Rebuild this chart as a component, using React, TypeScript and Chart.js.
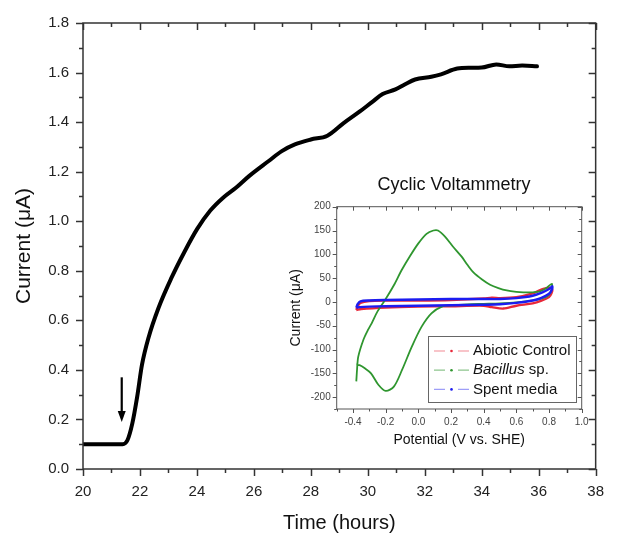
import React, { useEffect, useRef } from "react";
import { Chart, registerables } from "chart.js";

Chart.register(...registerables);

// ---------- Main chart data ----------
const timeHours = [20, 21, 21.2, 21.39, 21.56, 21.73, 21.9, 22.07, 22.3, 22.65, 23.1, 23.56, 24.01, 24.47, 24.93, 25.38, 25.84, 26.52, 26.98, 27.44, 28.0, 28.58, 29.15, 29.72, 30.17, 30.52, 30.97, 31.31, 31.66, 32.23, 32.57, 33.14, 33.6, 34.0, 34.51, 34.97, 35.42, 35.94];
const currentMicroA = [0.1, 0.1, 0.1, 0.1, 0.116, 0.183, 0.29, 0.42, 0.53, 0.65, 0.77, 0.876, 0.969, 1.043, 1.096, 1.136, 1.183, 1.243, 1.283, 1.31, 1.33, 1.345, 1.396, 1.443, 1.483, 1.513, 1.532, 1.553, 1.572, 1.583, 1.593, 1.616, 1.619, 1.62, 1.633, 1.625, 1.628, 1.625];
const mainXTicks = [20, 22, 24, 26, 28, 30, 32, 34, 36, 38];
const mainYTicks = [0, 0.2, 0.4, 0.6, 0.8, 1.0, 1.2, 1.4, 1.6, 1.8];
const arrowTime = 21.36;
const arrowTop = 0.37;
const arrowTip = 0.19;

// ---------- Inset (cyclic voltammetry) data ----------
const insetTitle = "Cyclic Voltammetry";
const abioticPotential = [-0.38, -0.372, -0.355, -0.3, -0.2, 0.0, 0.2, 0.4, 0.45, 0.5, 0.6, 0.7, 0.76, 0.8, 0.82, 0.815, 0.8, 0.75, 0.7, 0.6, 0.52, 0.45, 0.4, 0.2, 0.0, -0.2, -0.35, -0.38];
const abioticCurrent = [-17, -9, -2, 2, 3, 3, 4, 7, 9, 8, 10, 18, 27, 30, 26, 18, 10, 2, -3, -8, -14, -11, -8, -9, -10, -12, -15, -17];
const bacillusPotential = [-0.38, -0.375, -0.368, -0.337, -0.31, -0.286, -0.25, -0.204, -0.15, -0.102, -0.05, 0.0, 0.05, 0.092, 0.12, 0.163, 0.21, 0.265, 0.3, 0.337, 0.39, 0.439, 0.49, 0.541, 0.6, 0.643, 0.7, 0.745, 0.78, 0.817, 0.81, 0.78, 0.7, 0.6, 0.5, 0.4, 0.3, 0.2, 0.15, 0.08, 0.02, -0.04, -0.1, -0.15, -0.2, -0.245, -0.29, -0.33, -0.36, -0.38];
const bacillusCurrent = [-167, -140, -115, -80, -60, -45, -20, 4, 35, 67, 97, 123, 143, 150, 150, 137, 117, 95, 78, 62, 47, 36, 29, 24, 21, 20, 20, 22, 28, 38, 20, 10, 3, -1, -3, -4, -5, -7, -9, -24, -52, -94, -143, -178, -187, -174, -150, -139, -133, -132];
const spentPotential = [-0.38, -0.372, -0.355, -0.3, -0.2, 0.0, 0.2, 0.4, 0.5, 0.6, 0.7, 0.76, 0.8, 0.82, 0.818, 0.8, 0.75, 0.7, 0.6, 0.5, 0.4, 0.2, 0.0, -0.2, -0.3, -0.36, -0.38];
const spentCurrent = [-12, -5, 1, 3, 4, 5, 6, 6, 6, 8, 13, 20, 27, 33, 26, 17, 8, 3, -2, -5, -6, -7, -8, -9, -10, -11, -12];
const cvXTicks = [-0.4, -0.2, 0.0, 0.2, 0.4, 0.6, 0.8, 1.0];
const cvYTicks = [-200, -150, -100, -50, 0, 50, 100, 150, 200];
const legendLabels = ["Abiotic Control", "Bacillus", "Spent media"];
const legendSuffix = ["", " sp.", ""];
const legendItalic = [false, true, false];

const FONT = "'Liberation Sans', Arial, Helvetica, sans-serif";

const toPoints = (xs: number[], ys: number[]) => xs.map((x, i) => ({ x, y: ys[i] }));

// Frame + major/minor ticks on all four sides
const framePlugin = {
  id: "frameTicks",
  afterDatasetsDraw(chart: any, _args: any, opts: any) {
    const { ctx, chartArea: a, scales } = chart;
    const xs = scales.x;
    const ys = scales.y;
    ctx.save();
    ctx.strokeStyle = opts.color;
    ctx.lineWidth = opts.lineWidth;
    ctx.lineCap = "butt";
    const line = (x1: number, y1: number, x2: number, y2: number) => {
      ctx.beginPath();
      ctx.moveTo(x1, y1);
      ctx.lineTo(x2, y2);
      ctx.stroke();
    };
    const eps = 1e-9;
    const isMajor = (v: number, majors: number[]) => majors.some((m) => Math.abs(m - v) < 1e-6);
    for (let v = xs.min; v <= xs.max + eps; v += opts.xMinor) {
      const vv = Math.round(v * 1e6) / 1e6;
      const len = isMajor(vv, opts.xMajor) ? opts.majorLen : opts.minorLen;
      const px = Math.round(xs.getPixelForValue(vv)) + 0.5;
      line(px, a.bottom, px, a.bottom + len);
      line(px, a.top, px, a.top + len);
    }
    for (let v = ys.min; v <= ys.max + eps; v += opts.yMinor) {
      const vv = Math.round(v * 1e6) / 1e6;
      const len = isMajor(vv, opts.yMajor) ? opts.majorLen : opts.minorLen;
      const py = Math.round(ys.getPixelForValue(vv)) + 0.5;
      line(a.left - len, py, a.left, py);
      line(a.right - len, py, a.right, py);
    }
    ctx.strokeRect(a.left, a.top, a.right - a.left, a.bottom - a.top);
    ctx.restore();
  },
};

const arrowPlugin = {
  id: "arrowMark",
  afterDatasetsDraw(chart: any, _args: any, opts: any) {
    const { ctx, scales } = chart;
    const x = scales.x.getPixelForValue(opts.x);
    const y1 = scales.y.getPixelForValue(opts.yFrom);
    const y2 = scales.y.getPixelForValue(opts.yTo);
    ctx.save();
    ctx.strokeStyle = "#000";
    ctx.fillStyle = "#000";
    ctx.lineWidth = 2.2;
    ctx.beginPath();
    ctx.moveTo(x, y1);
    ctx.lineTo(x, y2 - 8);
    ctx.stroke();
    ctx.beginPath();
    ctx.moveTo(x, y2);
    ctx.lineTo(x - 4, y2 - 11);
    ctx.lineTo(x + 4, y2 - 11);
    ctx.closePath();
    ctx.fill();
    ctx.restore();
  },
};

const insetTitlePlugin = {
  id: "insetTitle",
  afterDraw(chart: any, _args: any, opts: any) {
    const { ctx, chartArea: a } = chart;
    ctx.save();
    ctx.fillStyle = "#111";
    ctx.font = `18px ${FONT}`;
    ctx.textAlign = "center";
    ctx.textBaseline = "middle";
    ctx.fillText(opts.text, a.left + opts.dx, a.top - opts.dy);
    ctx.restore();
  },
};

const cvLegendPlugin = {
  id: "cvLegend",
  afterDraw(chart: any, _args: any, opts: any) {
    const { ctx, chartArea: a } = chart;
    const right = a.right - opts.offsetRight;
    const bottom = a.bottom - opts.offsetBottom;
    const left = right - opts.width;
    const top = bottom - opts.height;
    ctx.save();
    ctx.fillStyle = "#fff";
    ctx.fillRect(left, top, opts.width, opts.height);
    ctx.strokeStyle = "#666";
    ctx.lineWidth = 1;
    ctx.strokeRect(Math.round(left) + 0.5, Math.round(top) + 0.5, opts.width, opts.height);
    chart.data.datasets.forEach((ds: any, i: number) => {
      const y = top + opts.firstRow + i * opts.rowGap;
      ctx.strokeStyle = ds.legendLight;
      ctx.lineWidth = 1.2;
      ctx.beginPath();
      ctx.moveTo(left + 6, y);
      ctx.lineTo(left + 17, y);
      ctx.moveTo(left + 30, y);
      ctx.lineTo(left + 41, y);
      ctx.stroke();
      ctx.fillStyle = ds.borderColor;
      ctx.beginPath();
      ctx.arc(left + 23.5, y, 1.3, 0, Math.PI * 2);
      ctx.fill();
      ctx.fillStyle = "#111";
      ctx.textBaseline = "middle";
      ctx.textAlign = "left";
      const tx = left + 45;
      ctx.font = `${legendItalic[i] ? "italic " : ""}15px ${FONT}`;
      ctx.fillText(legendLabels[i], tx, y);
      if (legendSuffix[i]) {
        const w = ctx.measureText(legendLabels[i]).width;
        ctx.font = `15px ${FONT}`;
        ctx.fillText(legendSuffix[i], tx + w, y);
      }
    });
    ctx.restore();
  },
};

export default function App() {
  const mainRef = useRef<HTMLCanvasElement | null>(null);
  const insetRef = useRef<HTMLCanvasElement | null>(null);

  useEffect(() => {
    if (!mainRef.current || !insetRef.current) return;

    const mainChart = new Chart(mainRef.current, {
      type: "line",
      data: {
        datasets: [
          {
            data: toPoints(timeHours, currentMicroA),
            borderColor: "#000",
            borderWidth: 4,
            pointRadius: 0,
            fill: false,
            cubicInterpolationMode: "monotone",
            borderCapStyle: "round",
            borderJoinStyle: "round",
          } as any,
        ],
      },
      options: {
        animation: false,
        responsive: false,
        events: [],
        layout: { padding: { left: 0, right: 9, top: 19, bottom: 0 } },
        plugins: {
          legend: { display: false },
          tooltip: { enabled: false },
          frameTicks: {
            color: "#333",
            lineWidth: 1.5,
            xMinor: 1,
            yMinor: 0.1,
            xMajor: mainXTicks,
            yMajor: mainYTicks,
            majorLen: 7,
            minorLen: 4,
          },
          arrowMark: { x: arrowTime, yFrom: arrowTop, yTo: arrowTip },
        } as any,
        scales: {
          x: {
            type: "linear",
            min: 20,
            max: 38,
            afterBuildTicks: (s: any) => {
              s.ticks = mainXTicks.map((v) => ({ value: v }));
            },
            afterFit: (s: any) => {
              s.height = 67;
            },
            grid: { display: false, drawTicks: false },
            border: { display: false },
            ticks: {
              font: { family: FONT, size: 15 },
              color: "#222",
              padding: 14,
              maxRotation: 0,
              callback: (v: any) => String(v),
            },
            title: {
              display: true,
              text: "Time (hours)",
              font: { family: FONT, size: 20 },
              color: "#111",
              padding: { top: 0, bottom: 1 },
            },
          },
          y: {
            type: "linear",
            min: 0,
            max: 1.8,
            afterBuildTicks: (s: any) => {
              s.ticks = mainYTicks.map((v) => ({ value: v }));
            },
            afterFit: (s: any) => {
              s.width = 83;
            },
            grid: { display: false, drawTicks: false },
            border: { display: false },
            ticks: {
              font: { family: FONT, size: 15 },
              color: "#222",
              padding: 14,
              callback: (v: any) => Number(v).toFixed(1),
            },
            title: {
              display: true,
              text: "Current (μA)",
              font: { family: FONT, size: 21 },
              color: "#111",
              padding: { top: 12, bottom: 0 },
            },
          },
        },
      },
      plugins: [framePlugin, arrowPlugin],
    });

    const insetChart = new Chart(insetRef.current, {
      type: "scatter",
      data: {
        datasets: [
          {
            label: legendLabels[0],
            data: toPoints(abioticPotential, abioticCurrent),
            borderColor: "#e8283a",
            legendLight: "rgba(232,40,58,0.55)",
            borderWidth: 2.4,
            showLine: true,
            pointRadius: 0,
            tension: 0.3,
            order: 2,
          } as any,
          {
            label: legendLabels[1],
            data: toPoints(bacillusPotential, bacillusCurrent),
            borderColor: "#2f962f",
            legendLight: "rgba(47,150,47,0.55)",
            borderWidth: 1.8,
            showLine: true,
            pointRadius: 0,
            tension: 0.3,
            order: 1,
          } as any,
          {
            label: legendLabels[2],
            data: toPoints(spentPotential, spentCurrent),
            borderColor: "#1c1cf0",
            legendLight: "rgba(40,40,240,0.45)",
            borderWidth: 2.4,
            showLine: true,
            pointRadius: 0,
            tension: 0.3,
            order: 0,
          } as any,
        ],
      },
      options: {
        animation: false,
        responsive: false,
        events: [],
        layout: { padding: { left: 0, right: 36.3, top: 36.7, bottom: 0 } },
        plugins: {
          legend: { display: false },
          tooltip: { enabled: false },
          title: { display: false },
          insetTitle: { text: insetTitle, dx: 117.3, dy: 22 },
          frameTicks: {
            color: "#555",
            lineWidth: 1,
            xMinor: 0.1,
            yMinor: 25,
            xMajor: cvXTicks,
            yMajor: cvYTicks,
            majorLen: 4,
            minorLen: 2.5,
          },
          cvLegend: {
            offsetRight: 5.7,
            offsetBottom: 7,
            width: 148,
            height: 66,
            firstRow: 15,
            rowGap: 19.2,
          },
        } as any,
        scales: {
          x: {
            type: "linear",
            min: -0.5,
            max: 1.0,
            afterBuildTicks: (s: any) => {
              s.ticks = cvXTicks.map((v) => ({ value: v }));
            },
            afterFit: (s: any) => {
              s.height = 41;
            },
            grid: { display: false, drawTicks: false },
            border: { display: false },
            ticks: {
              font: { family: FONT, size: 10 },
              color: "#444",
              padding: 7,
              maxRotation: 0,
              callback: (v: any) => Number(v).toFixed(1),
            },
            title: {
              display: true,
              text: "Potential (V vs. SHE)",
              font: { family: FONT, size: 14 },
              color: "#111",
              padding: { top: 0, bottom: 1.6 },
            },
          },
          y: {
            type: "linear",
            min: -225,
            max: 200,
            afterBuildTicks: (s: any) => {
              s.ticks = cvYTicks.map((v) => ({ value: v }));
            },
            afterFit: (s: any) => {
              s.width = 48.7;
            },
            grid: { display: false, drawTicks: false },
            border: { display: false },
            ticks: {
              font: { family: FONT, size: 10 },
              color: "#444",
              padding: 6,
              callback: (v: any) => String(v),
            },
            title: {
              display: true,
              text: "Current (μA)",
              font: { family: FONT, size: 14 },
              color: "#111",
              padding: { top: 0, bottom: 0 },
            },
          },
        },
      },
      plugins: [framePlugin, cvLegendPlugin, insetTitlePlugin],
    });

    return () => {
      mainChart.destroy();
      insetChart.destroy();
    };
  }, []);

  return (
    <div style={{ position: "absolute", left: 0, top: 0, width: 618, height: 536, background: "#fff" }}>
      <canvas ref={mainRef} width={618} height={536} style={{ position: "absolute", left: 0, top: 0, display: "block" }} />
      <canvas ref={insetRef} width={330} height={280} style={{ position: "absolute", left: 288, top: 170, display: "block" }} />
    </div>
  );
}
